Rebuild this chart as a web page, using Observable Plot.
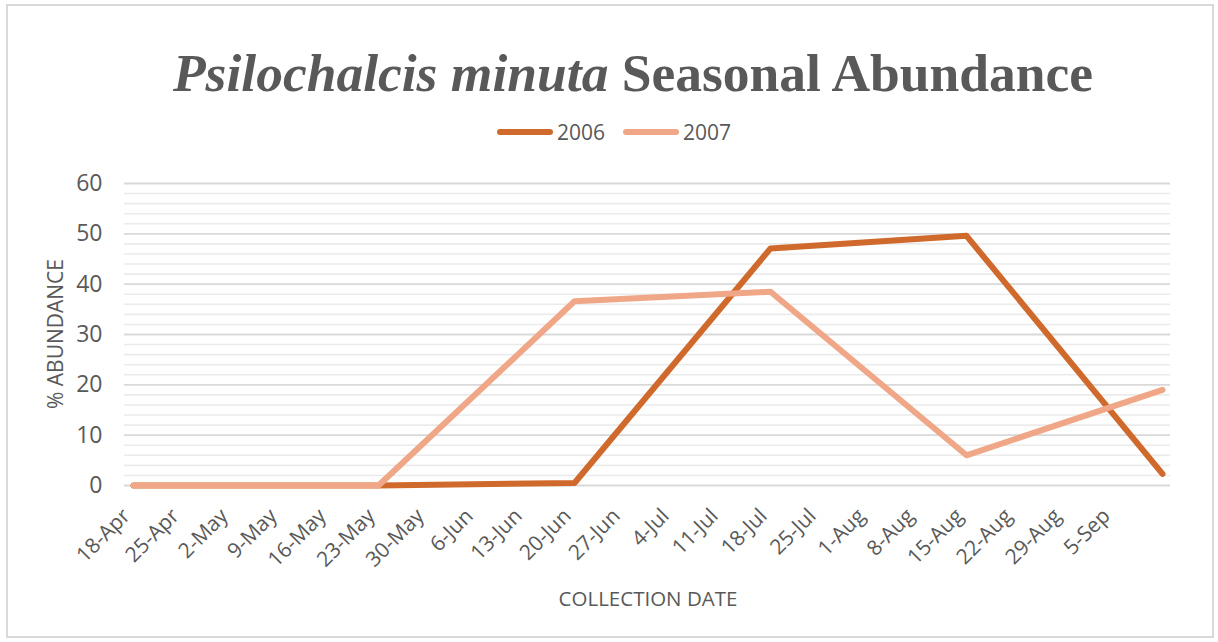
<!DOCTYPE html>
<html>
<head>
<meta charset="utf-8">
<script src="https://cdn.jsdelivr.net/npm/d3@7"></script>
<script src="https://cdn.jsdelivr.net/npm/@observablehq/plot@0.6"></script>
<style>
  html, body { margin: 0; padding: 0; background: #fff; }
  body { width: 1218px; height: 642px; position: relative; overflow: hidden; font-family: "Open Sans", sans-serif; color: #595959; }
  #frame { position: absolute; left: 6px; top: 4px; width: 1208px; height: 634px; border: 2px solid #d9d9d9; box-sizing: border-box; }
  #title { position: absolute; left: 0; top: 43px; width: 1218px; padding-left: 48px; box-sizing: border-box; text-align: center; font-family: "Liberation Serif", "DejaVu Serif", serif; font-weight: bold; font-size: 53.5px; line-height: 60px; color: #595959; white-space: nowrap; }
  #legend { position: absolute; top: 118px; left: 497px; height: 28px; display: flex; align-items: center; font-size: 21px; }
  .item { display: flex; align-items: center; margin-right: 18px; }
  .swatch { width: 56px; height: 6px; border-radius: 3px; margin-right: 4px; }
  #chart { position: absolute; left: 0; top: 160px; }
  #ytitle { position: absolute; left: 55px; top: 334px; transform: translate(-50%, -50%) rotate(-90deg); font-size: 21px; white-space: nowrap; }
  #xtitle { position: absolute; left: 648px; top: 598px; transform: translate(-50%, -50%); font-size: 20.5px; white-space: nowrap; }
</style>
</head>
<body>
<div id="frame"></div>
<div id="title"><i>Psilochalcis minuta</i> Seasonal Abundance</div>
<div id="legend"></div>
<div id="chart"></div>
<div id="ytitle">% ABUNDANCE</div>
<div id="xtitle">COLLECTION DATE</div>
<script>
// ---- data ----
const weeks = ["18-Apr","25-Apr","2-May","9-May","16-May","23-May","30-May","6-Jun","13-Jun","20-Jun","27-Jun","4-Jul","11-Jul","18-Jul","25-Jul","1-Aug","8-Aug","15-Aug","22-Aug","29-Aug","5-Sep","12-Sep"];
const tickLabels = ["18-Apr","25-Apr","2-May","9-May","16-May","23-May","30-May","6-Jun","13-Jun","20-Jun","27-Jun","4-Jul","11-Jul","18-Jul","25-Jul","1-Aug","8-Aug","15-Aug","22-Aug","29-Aug","5-Sep"];
const sampleDates = ["18-Apr","23-May","20-Jun","18-Jul","15-Aug","12-Sep"];
const abundance2006 = [0, 0, 0.5, 47.1, 49.6, 2.3];
const abundance2007 = [0, 0, 36.6, 38.5, 6.0, 19.0];
const series = ["2006", "2007"];
const yMajor = [0, 10, 20, 30, 40, 50, 60];
const yMinor = [2,4,6,8,12,14,16,18,22,24,26,28,32,34,36,38,42,44,46,48,52,54,56,58];

// ---- styles ----
const colors = {"2006": "#D06A2C", "2007": "#F0A788"};

const rows = (vals, s) => sampleDates.map((d, i) => ({date: d, value: vals[i], series: s}));
const d2006 = rows(abundance2006, "2006");
const d2007 = rows(abundance2007, "2007");

// legend
const legend = document.getElementById("legend");
series.forEach(s => {
  const it = document.createElement("div");
  it.className = "item";
  const sw = document.createElement("div");
  sw.className = "swatch";
  sw.style.background = colors[s];
  const tx = document.createElement("span");
  tx.textContent = s;
  it.appendChild(sw); it.appendChild(tx);
  legend.appendChild(it);
});

const chart = Plot.plot({
  width: 1218,
  height: 420,
  marginTop: 23,
  marginBottom: 95,
  marginLeft: 124,
  marginRight: 48,
  style: {fontFamily: "'Open Sans', sans-serif", color: "#595959", background: "transparent"},
  x: {type: "point", domain: weeks, padding: 0},
  y: {domain: [0, 60]},
  marks: [
    Plot.gridY(yMinor, {stroke: "#ebebeb", strokeWidth: 1.6, strokeOpacity: 1}),
    Plot.gridY(yMajor, {stroke: "#d9d9d9", strokeWidth: 1.8, strokeOpacity: 1}),
    Plot.axisY(yMajor, {tickSize: 0, tickPadding: 22, fontSize: 23, fill: "#595959", label: null}),
    Plot.axisX(tickLabels, {tickSize: 0, tickPadding: 27, tickRotate: -45, fontSize: 21, fill: "#595959", label: null, dx: -7}),
    Plot.line(d2006, {x: "date", y: "value", stroke: colors["2006"], strokeWidth: 6, strokeLinejoin: "round", strokeLinecap: "round"}),
    Plot.line(d2007, {x: "date", y: "value", stroke: colors["2007"], strokeWidth: 6, strokeLinejoin: "round", strokeLinecap: "round"})
  ]
});
document.getElementById("chart").appendChild(chart);
</script>
</body>
</html>
